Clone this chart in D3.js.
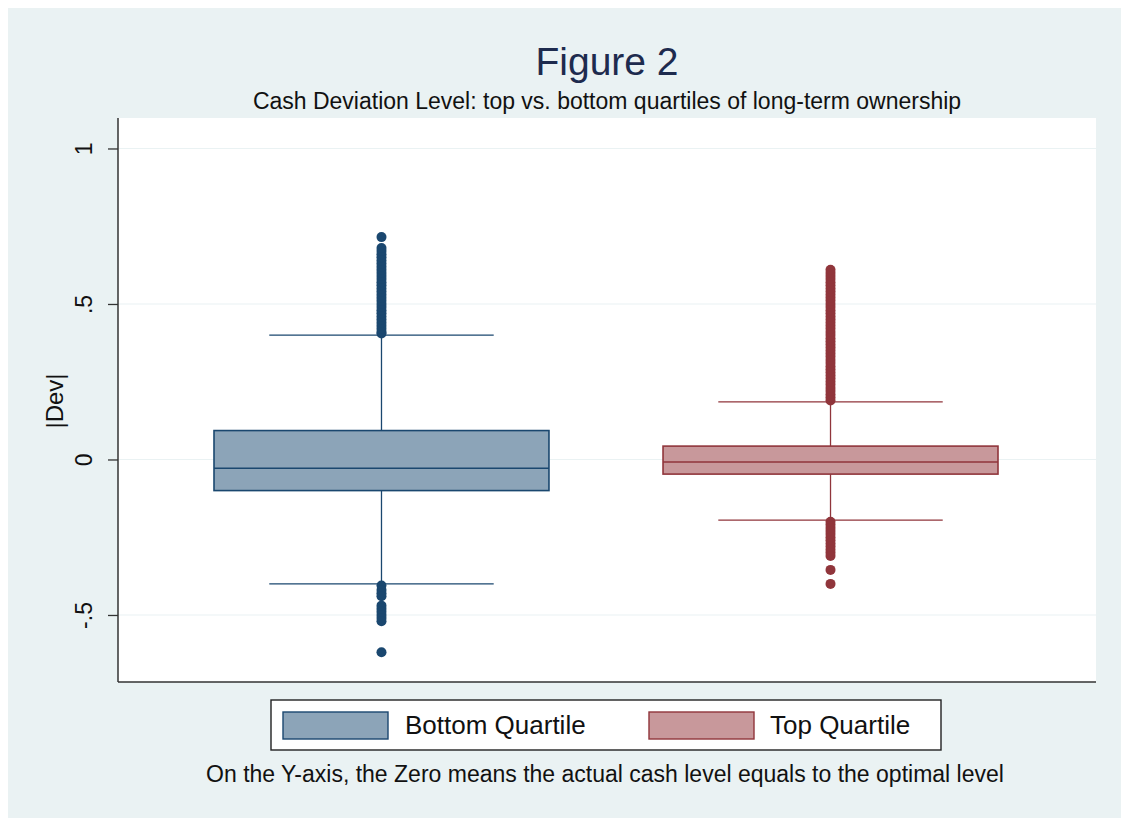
<!DOCTYPE html>
<html><head><meta charset="utf-8">
<script src="https://cdn.jsdelivr.net/npm/d3@7"></script>
<style>body{margin:0;background:#fff}svg{display:block;font-family:"Liberation Sans",Arial,sans-serif}</style>
</head><body><svg id="c" width="1121" height="818"></svg>
<script>
const groups = ["Bottom Quartile", "Top Quartile"];
const q1 = [-0.100, -0.047];
const medians = [-0.028, -0.008];
const q3 = [0.093, 0.043];
const whiskLo = [-0.400, -0.195];
const whiskHi = [0.400, 0.185];
const outliersBottom = [0.405,0.41,0.42,0.43,0.44,0.45,0.46,0.47,0.48,0.49,0.50,0.51,0.52,0.53,0.54,0.55,0.56,0.57,0.58,0.59,0.60,0.61,0.62,0.63,0.64,0.65,0.66,0.67,0.68,0.715,
  -0.405,-0.42,-0.43,-0.44,-0.47,-0.48,-0.49,-0.50,-0.51,-0.52,-0.62];
const outliersTop = [0.19,0.20,0.21,0.22,0.23,0.24,0.25,0.26,0.27,0.28,0.29,0.30,0.31,0.32,0.33,0.34,0.35,0.36,0.37,0.38,0.39,0.40,0.41,0.42,0.43,0.44,0.45,0.46,0.47,0.48,0.49,0.50,0.51,0.52,0.53,0.54,0.55,0.56,0.57,0.58,0.59,0.60,0.61,
  -0.20,-0.21,-0.22,-0.23,-0.24,-0.25,-0.26,-0.27,-0.28,-0.29,-0.30,-0.31,-0.355,-0.40];
const outliers = [outliersBottom, outliersTop];
const yTicks = [-0.5, 0, 0.5, 1];
const yTickLabels = ["-.5", "0", ".5", "1"];
const titleText = "Figure 2";
const subtitleText = "Cash Deviation Level: top vs. bottom quartiles of long-term ownership";
const noteText = "On the Y-axis, the Zero means the actual cash level equals to the optimal level";
const yTitle = "|Dev|";

const strokeCols = ["#1a476f", "#90353b"];
const fillCols = ["#8ca4b8", "#c8989b"];

const svg = d3.select("#c");
svg.append("rect").attr("x",8).attr("y",8).attr("width",1113).attr("height",810).attr("fill","#eaf2f3");

const L=118, R=1096, T=118, B=682;
svg.append("rect").attr("x",L).attr("y",T).attr("width",R-L).attr("height",B-T).attr("fill","#fff");

const y = d3.scaleLinear().domain([-0.7155, 1.098]).range([B, T]);
const x = d3.scaleBand().domain(groups).range([214, 998]).paddingInner(0.254).paddingOuter(0);

// grid
svg.append("g").selectAll("line").data(yTicks).join("line")
  .attr("x1",L).attr("x2",R).attr("y1",d=>y(d)).attr("y2",d=>y(d))
  .attr("stroke","#eaf2f3").attr("stroke-width",1.2);

// boxes
groups.forEach((g,i)=>{
  const x0 = x(g), bw = x.bandwidth(), cx = x0 + bw/2, cw = bw*0.67;
  const G = svg.append("g");
  G.append("line").attr("x1",cx).attr("x2",cx).attr("y1",y(q3[i])).attr("y2",y(whiskHi[i])).attr("stroke",strokeCols[i]).attr("stroke-width",1.3);
  G.append("line").attr("x1",cx).attr("x2",cx).attr("y1",y(q1[i])).attr("y2",y(whiskLo[i])).attr("stroke",strokeCols[i]).attr("stroke-width",1.3);
  [whiskHi[i], whiskLo[i]].forEach(v=>{
    G.append("line").attr("x1",cx-cw/2).attr("x2",cx+cw/2).attr("y1",y(v)).attr("y2",y(v)).attr("stroke",strokeCols[i]).attr("stroke-width",1.3);
  });
  G.append("rect").attr("x",x0).attr("width",bw).attr("y",y(q3[i])).attr("height",y(q1[i])-y(q3[i]))
    .attr("fill",fillCols[i]).attr("stroke",strokeCols[i]).attr("stroke-width",1.6);
  G.append("line").attr("x1",x0).attr("x2",x0+bw).attr("y1",y(medians[i])).attr("y2",y(medians[i])).attr("stroke",strokeCols[i]).attr("stroke-width",1.6);
  G.selectAll("circle").data(outliers[i]).join("circle")
    .attr("cx",cx).attr("cy",d=>y(d)).attr("r",5).attr("fill",strokeCols[i]);
});

// axes lines
svg.append("line").attr("x1",L).attr("x2",L).attr("y1",T).attr("y2",B).attr("stroke","#333").attr("stroke-width",1.5);
svg.append("line").attr("x1",L).attr("x2",R).attr("y1",B).attr("y2",B).attr("stroke","#333").attr("stroke-width",1.5);
const yAxis = d3.axisLeft(y).tickValues(yTicks).tickSize(10).tickFormat((d,i)=>yTickLabels[i]);
const ga = svg.append("g").attr("transform",`translate(${L},0)`).call(yAxis);
ga.select(".domain").remove();
ga.selectAll(".tick line").attr("stroke","#333").attr("stroke-width",1.3);
ga.selectAll(".tick text").attr("font-size",23).attr("fill","#111")
  .attr("x",null).attr("dy","0.35em")
  .attr("text-anchor","middle")
  .attr("transform","translate(-34,0) rotate(-90)");

svg.append("text").attr("transform","translate(63,401) rotate(-90)").attr("text-anchor","middle")
  .attr("font-size",24).attr("fill","#111").text(yTitle);

// titles
svg.append("text").attr("x",607).attr("y",75).attr("text-anchor","middle").attr("font-size",39).attr("fill","#1e2b4e").text(titleText);
svg.append("text").attr("x",607).attr("y",109).attr("text-anchor","middle").attr("font-size",23).attr("fill","#111").text(subtitleText);

// legend
svg.append("rect").attr("x",271).attr("y",700).attr("width",670).attr("height",50).attr("fill","#fff").attr("stroke","#222").attr("stroke-width",1.4);
const keyX = [283, 649], txtX = [405, 770];
groups.forEach((g,i)=>{
  svg.append("rect").attr("x",keyX[i]).attr("y",712).attr("width",105).attr("height",27)
    .attr("fill",fillCols[i]).attr("stroke",strokeCols[i]).attr("stroke-width",1.4);
  svg.append("text").attr("x",txtX[i]).attr("y",734).attr("font-size",26).attr("fill","#111").text(g);
});
svg.append("text").attr("x",605).attr("y",782).attr("text-anchor","middle").attr("font-size",23).attr("fill","#111").text(noteText);
</script></body></html>
